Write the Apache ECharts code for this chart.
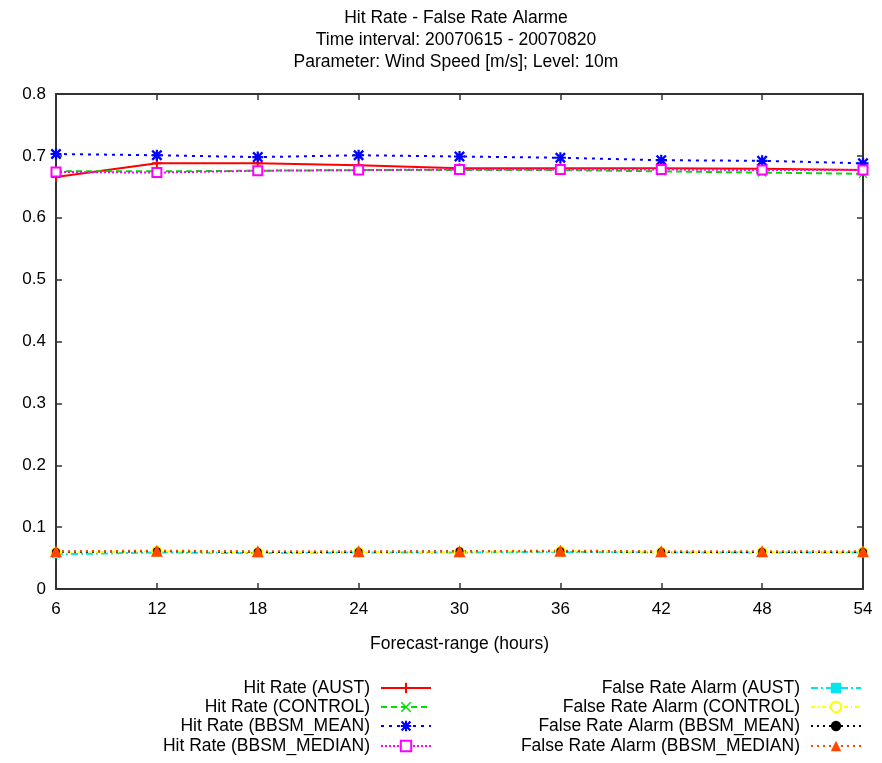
<!DOCTYPE html>
<html>
<head>
<meta charset="utf-8">
<script src="https://cdn.jsdelivr.net/npm/echarts@6/dist/echarts.min.js"></script>
<style>
html,body{margin:0;padding:0;background:#fff;}
#chart{width:882px;height:763px;}
</style>
</head>
<body>
<div id="chart"></div>
<script>
// Forecast ranges (hours)
const hours = [6, 12, 18, 24, 30, 36, 42, 48, 54];
const yTicks = [0, 0.1, 0.2, 0.3, 0.4, 0.5, 0.6, 0.7, 0.8];

// Hit rate per model
const hitAust    = [0.666, 0.688, 0.688, 0.685, 0.680, 0.680, 0.680, 0.679, 0.677];
const hitControl = [0.675, 0.675, 0.676, 0.677, 0.677, 0.677, 0.675, 0.673, 0.671];
const hitMean    = [0.703, 0.701, 0.698, 0.701, 0.699, 0.697, 0.693, 0.692, 0.688];
const hitMedian  = [0.674, 0.673, 0.676, 0.677, 0.678, 0.678, 0.678, 0.677, 0.677];

// False alarm rate per model
const farAust    = [0.056, 0.059, 0.058, 0.059, 0.059, 0.060, 0.059, 0.059, 0.059];
const farControl = [0.059, 0.061, 0.059, 0.060, 0.060, 0.061, 0.060, 0.060, 0.060];
const farMean    = [0.060, 0.061, 0.060, 0.060, 0.061, 0.061, 0.060, 0.060, 0.060];
const farMedian  = [0.061, 0.062, 0.061, 0.061, 0.061, 0.062, 0.061, 0.061, 0.061];

const FONT = 'Liberation Sans, Arial, sans-serif';
const FRAME = '#333333';

// point markers
const PLUS = 'path://M4,0H6V4H10V6H6V10H4V6H0V4H4Z';
const CROSS = 'path://M0,1L1,0L5,4L9,0L10,1L6,5L10,9L9,10L5,6L1,10L0,9L4,5Z';
const STAR = 'path://M4,0H6V4H10V6H6V10H4V6H0V4H4Z M0,1.5L1.5,0L5,3.5L8.5,0L10,1.5L6.5,5L10,8.5L8.5,10L5,6.5L1.5,10L0,8.5L3.5,5Z';

const specs = [
  {name: 'Hit Rate (AUST)', data: hitAust, color: '#ff0000', type: 'solid', symbol: PLUS, size: 10, col: 0},
  {name: 'Hit Rate (CONTROL)', data: hitControl, color: '#00dd00', type: [6, 4], symbol: CROSS, size: 9, col: 0},
  {name: 'Hit Rate (BBSM_MEAN)', data: hitMean, color: '#0000ff', type: [3, 5], symbol: STAR, size: 11, col: 0},
  {name: 'Hit Rate (BBSM_MEDIAN)', data: hitMedian, color: '#ff00ff', type: [2, 2], symbol: 'emptyRect', size: 9, col: 0},
  {name: 'False Rate Alarm (AUST)', data: farAust, color: '#00e5ee', type: [7, 3, 2, 3], symbol: 'rect', size: 8, col: 1},
  {name: 'False Rate Alarm (CONTROL)', data: farControl, color: '#ffff00', type: [4, 3, 1, 3], symbol: 'emptyCircle', size: 9, col: 1},
  {name: 'False Rate Alarm (BBSM_MEAN)', data: farMean, color: '#000000', type: [2, 4], symbol: 'circle', size: 8, col: 1},
  {name: 'False Rate Alarm (BBSM_MEDIAN)', data: farMedian, color: '#ff4500', type: [2, 4], symbol: 'triangle', size: 12, col: 1}
];

const series = specs.map(s => ({
  name: s.name,
  type: 'line',
  data: hours.map((h, i) => [h, s.data[i]]),
  symbol: s.symbol,
  symbolSize: s.size,
  showAllSymbol: true,
  animation: false,
  lineStyle: {color: s.color, width: 2, type: s.type},
  itemStyle: {color: s.color, borderColor: s.color, borderWidth: s.symbol.indexOf('empty') === 0 ? 2 : 0}
}));

const rowTops = [679, 698, 717, 737];
const legends = specs.map((s, i) => ({
  data: [s.name],
  right: s.col === 0 ? 450 : 20,
  top: rowTops[i % 4],
  align: 'right',
  orient: 'vertical',
  itemWidth: 50,
  itemHeight: 13,
  selectedMode: false,
  padding: 0,
  textStyle: {fontFamily: FONT, fontSize: 17.5, color: '#000', padding: [0, 6, 0, 0]}
}));

const frameLine = {show: true, onZero: false, lineStyle: {color: FRAME, width: 2}};
const frameTick = {show: true, inside: true, length: 6, lineStyle: {color: FRAME, width: 1.5}};

const chart = echarts.init(document.getElementById('chart'), null, {renderer: 'canvas'});
chart.setOption({
  backgroundColor: '#fff',
  animation: false,
  title: {
    text: 'Hit Rate - False Rate Alarme\nTime interval: 20070615 - 20070820\nParameter: Wind Speed [m/s]; Level: 10m',
    left: 451,
    top: 2,
    textAlign: 'center',
    textStyle: {fontFamily: FONT, fontSize: 17.5, fontWeight: 'normal', color: '#000', lineHeight: 22}
  },
  legend: legends,
  grid: {left: 56, right: 19, top: 94, bottom: 174, containLabel: false},
  xAxis: [{
    type: 'value', min: hours[0], max: hours[hours.length - 1], interval: 6,
    name: 'Forecast-range (hours)', nameLocation: 'middle', nameGap: 46,
    nameTextStyle: {fontFamily: FONT, fontSize: 17.5, color: '#000'},
    axisLine: frameLine,
    axisTick: frameTick,
    axisLabel: {fontFamily: FONT, fontSize: 17, color: '#000', margin: 12},
    splitLine: {show: false}
  }, {
    type: 'value', position: 'top', min: hours[0], max: hours[hours.length - 1], interval: 6,
    axisLine: frameLine,
    axisTick: frameTick,
    axisLabel: {show: false}, splitLine: {show: false}
  }],
  yAxis: [{
    type: 'value', min: yTicks[0], max: yTicks[yTicks.length - 1], interval: 0.1,
    axisLine: frameLine,
    axisTick: frameTick,
    axisLabel: {fontFamily: FONT, fontSize: 17, color: '#000', margin: 10,
      formatter: v => String(Math.round(v * 10) / 10)},
    splitLine: {show: false}
  }, {
    type: 'value', position: 'right', min: yTicks[0], max: yTicks[yTicks.length - 1], interval: 0.1,
    axisLine: frameLine,
    axisTick: frameTick,
    axisLabel: {show: false}, splitLine: {show: false}
  }],
  series: series
});
</script>
</body>
</html>
